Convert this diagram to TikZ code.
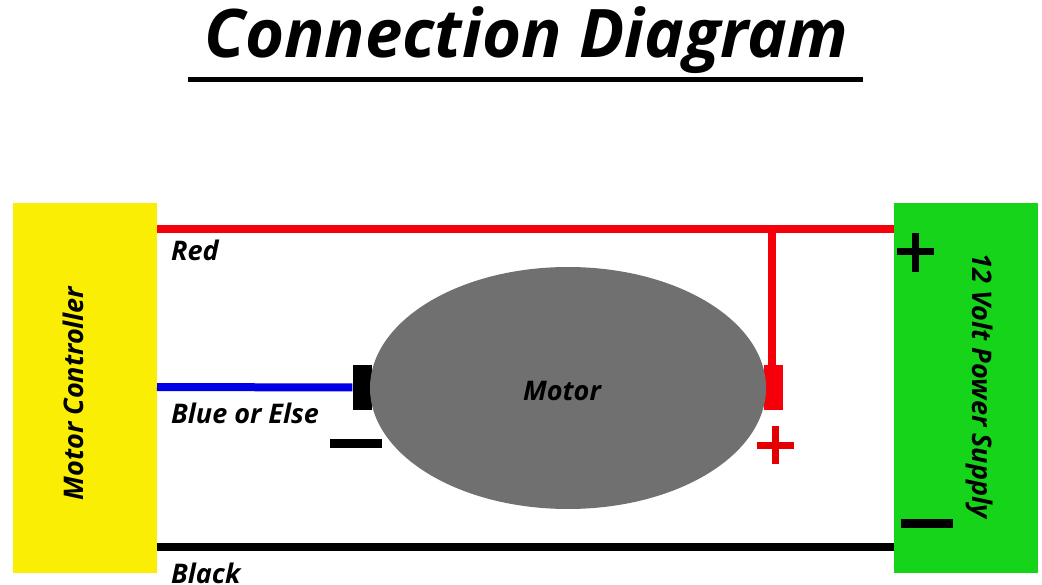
\documentclass[tikz,border=0pt]{standalone}
\usepackage{fontspec}
\setmainfont{Open Sans}
\usetikzlibrary{calc,shapes.geometric}
\definecolor{myyellow}{RGB}{250,238,5}
\definecolor{mygreen}{RGB}{22,212,26}
\definecolor{mygray}{RGB}{112,112,112}
\definecolor{myblue}{RGB}{0,0,230}
\definecolor{myred}{RGB}{245,0,10}
\tikzset{
 lab/.style={font=\bfseries\itshape\fontsize{27}{29}\selectfont, text=black, inner sep=0pt},
 wire/.style={line width=8pt},
 box/.style={minimum width=144pt,minimum height=370pt,inner sep=0pt},
 term/.style={minimum width=19pt,minimum height=45pt,inner sep=0pt}
}
\begin{document}
\begin{tikzpicture}[x=1pt,y=-1pt]
\useasboundingbox (0,0) rectangle (1042,585);
\node[font=\bfseries\itshape\fontsize{67}{70}\selectfont,inner sep=0pt,anchor=base] (title) at (526,58) {Connection Diagram};
\coordinate (ula) at (188,79.5); \coordinate (ulb) at (863,79.5);
\draw[line width=5pt] (ula) -- (ulb);
\node[fill=myyellow,box] (mc) at (85,388) {};
\node[fill=mygreen,box] (ps) at (966,388) {};
\node[lab,rotate=90,anchor=base] (mct) at (83,393.5) {Motor Controller};
\node[lab,rotate=-90,anchor=base] (pst) at (972,386) {12 Volt Power Supply};
\node[fill=black,term] (tb) at (362,387.5) {};
\node[fill=myred,term] (tr) at (773,387.5) {};
\node[ellipse,fill=mygray,minimum width=396pt,minimum height=242pt,inner sep=0pt] (motor) at (568,388) {};
\node[lab,anchor=base] (mt) at (562,400) {Motor};
\coordinate (ra) at (157,229); \coordinate (rb) at (894,229); \coordinate (rj) at (772,229);
\draw[wire,myred] (ra) -- (rb);
\draw[wire,myred] (rj) -- (tr.north -| rj);
\coordinate (ba) at (157,387);
\draw[wire,myblue] (ba) -- (tb.west);
\coordinate (ka) at (157,546.5); \coordinate (kb) at (894,546.5);
\draw[wire,black] (ka) -- (kb);
\node[lab,anchor=base west] (l1) at (171,261) {Red};
\node[lab,anchor=base west] (l2) at (171,423) {Blue or Else};
\node[lab,anchor=base west] (l3) at (171,583) {Black};
\coordinate (m1a) at (330,443.5); \coordinate (m1b) at (382,443.5);
\draw[line width=9pt] (m1a) -- (m1b);
\coordinate (m2a) at (901,523.5); \coordinate (m2b) at (953,523.5);
\draw[line width=9pt] (m2a) -- (m2b);
\coordinate (p1a) at (757,445); \coordinate (p1b) at (794,445); \coordinate (p1c) at (775.5,426); \coordinate (p1d) at (775.5,464);
\draw[line width=7pt,red!90!black] (p1a) -- (p1b) (p1c) -- (p1d);
\coordinate (p2a) at (897,252); \coordinate (p2b) at (934,252); \coordinate (p2c) at (915.5,233); \coordinate (p2d) at (915.5,272);
\draw[line width=7pt] (p2a) -- (p2b) (p2c) -- (p2d);
\end{tikzpicture}
\end{document}
